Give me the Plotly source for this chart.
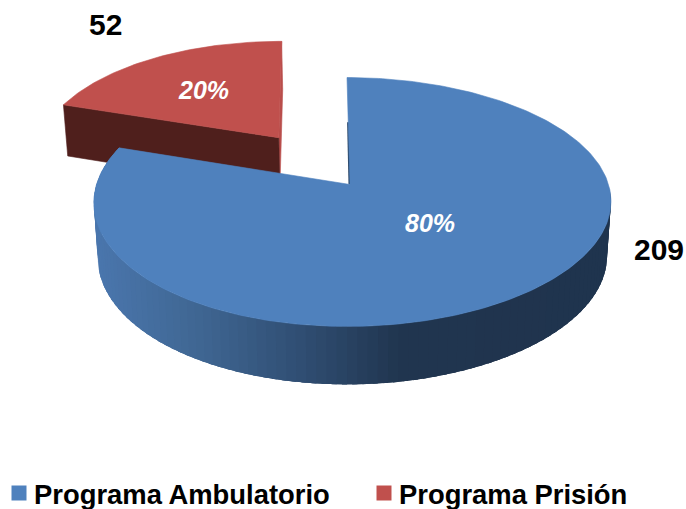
import math
import numpy as np
import plotly.graph_objects as go

# Data
categories = ["Programa Ambulatorio", "Programa Prisión"]
values = [209, 52]
pulled = [0.0, 0.5]
colors = ["#4f81bd", "#c0504d"]

# Projection of the pie's unit disc on to the page
CX, CY, BX, AY, K = 350.0, 184.5, 256.0, 122.0, 0.1406
DEPTH0, DEPTH_V, FLOOR_SCALE = 54.0, -4.0, 0.985


def project(u, v, floor=False):
    s = 1.0 / (1.0 + K * v)
    x = CX + BX * u * s + 2.5 * u * u - 3.0 * v * v
    y = CY - AY * v * s
    if floor:
        x = CX + (x - CX) * FLOOR_SCALE
        y = y + DEPTH0 + DEPTH_V * v
    return x, y


def rim(t_deg, offset=(0.0, 0.0), floor=False):
    t = math.radians(t_deg)
    return project(offset[0] + math.sin(t), offset[1] + math.cos(t), floor)


def arc(t0, t1, offset, floor=False, step=1.0):
    n = max(2, int(abs(t1 - t0) / step) + 1)
    pts = [rim(t, offset, floor) for t in np.linspace(t0, t1, n)]
    return [p[0] for p in pts], [p[1] for p in pts]


def poly(xs, ys, color, lw=0.6):
    return go.Scatter(x=xs, y=ys, mode="lines", fill="toself", fillcolor=color,
                      line=dict(color=color, width=lw), hoverinfo="skip", showlegend=False)


def mix(a, b, f):
    ca = [int(a[i:i + 2], 16) for i in (1, 3, 5)]
    cb = [int(b[i:i + 2], 16) for i in (1, 3, 5)]
    return "#%02x%02x%02x" % tuple(round(p + (q - p) * f) for p, q in zip(ca, cb))


def wall_color(x):
    stops = [(95, "#4a76ad"), (200, "#3f6692"), (300, "#304e73"), (400, "#20354f"), (690, "#1f334d")]
    for (x0, c0), (x1, c1) in zip(stops, stops[1:]):
        if x <= x1:
            return mix(c0, c1, max(0.0, (x - x0) / (x1 - x0)))
    return stops[-1][1]


total = sum(values)
spans = [360.0 * v / total for v in values]
blue_end = spans[0]
mid_red = blue_end + spans[1] / 2
off_red = (pulled[1] * math.sin(math.radians(mid_red)), pulled[1] * math.cos(math.radians(mid_red)))
off_blue = (0.0, 0.0)

fig = go.Figure()

# Pulled slice: cut faces, then its top
ax, ay = project(*off_red)
fx, fy = project(*off_red, floor=True)
lx, ly = rim(blue_end, off_red)
lfx, lfy = rim(blue_end, off_red, floor=True)
tx, ty = rim(360.0, off_red)
tfx, tfy = rim(360.0, off_red, floor=True)
fig.add_trace(poly([ax, tx, tfx, fx, ax], [ay, ty, tfy, fy, ay], "#b94e4b"))
fig.add_trace(poly([ax, lx, lfx, fx, ax], [ay, ly, lfy, fy, ay], "#4f1f1c"))
xs, ys = arc(blue_end, 360.0, off_red)
fig.add_trace(poly([ax] + xs + [ax], [ay] + ys + [ay], colors[1]))

# Main slice: side wall in overlapping shaded strips, right to left, then the top
edges = np.arange(92.0, blue_end + 0.5, 2.0)
for t0 in edges[:-1]:
    t1 = min(t0 + 5.0, blue_end)
    xa, ya = arc(t0, t1, off_blue)
    xb, yb = arc(t1, t0, off_blue, floor=True)
    mid = rim(t0 + 1.0)[0]
    fig.add_trace(poly(xa + xb + [xa[0]], ya + yb + [ya[0]], wall_color(mid), 0))
ex, ey = project(0.0, 0.55)
bx, by = project(0.0, 0.0)
fig.add_trace(go.Scatter(x=[ex - 1, bx - 0.5], y=[ey, by], mode="lines",
                         line=dict(color="#2b4768", width=2), hoverinfo="skip", showlegend=False))
xs, ys = arc(0.0, blue_end, off_blue)
fig.add_trace(poly([bx] + xs + [bx], [by] + ys + [by], colors[0]))

FONT = "Liberation Sans"
LEGEND_Y = 493.0
legend_marker_x = [19, 384]
legend_text_x = [34, 399]

# Legend entries: square swatches and their labels
fig.add_trace(go.Scatter(x=legend_marker_x, y=[LEGEND_Y, LEGEND_Y], mode="markers",
                         marker=dict(symbol="square", size=15, color=colors),
                         hoverinfo="skip", showlegend=False))

pct = [f"{v / total:.0%}" for v in values]
notes = [(430, 223, pct[0], "white", 25, True), (203, 90, pct[1], "white", 25, True),
         (659, 249, str(values[0]), "black", 30, False), (105, 24, str(values[1]), "black", 30, False)]
annotations = []
for x, y, text, col, size, ital in notes:
    label = f"<b><i>{text}</i></b>" if ital else f"<b>{text}</b>"
    annotations.append(dict(x=x, y=y, xref="x", yref="y", text=label, showarrow=False,
                            font=dict(family=FONT, size=size, color=col)))
for x, name in zip(legend_text_x, categories):
    annotations.append(dict(x=x, y=LEGEND_Y, xref="x", yref="y", xanchor="left", xshift=-2, yshift=-1,
                            text=f"<b>{name}</b>", showarrow=False,
                            font=dict(family=FONT, size=27.4, color="black")))

fig.update_layout(
    width=686, height=509, margin=dict(l=0, r=0, t=0, b=0),
    paper_bgcolor="white", plot_bgcolor="white", showlegend=False,
    xaxis=dict(range=[0, 686], visible=False, fixedrange=True),
    yaxis=dict(range=[509, 0], visible=False, fixedrange=True),
    annotations=annotations,
)
fig.write_html("out.html", config=dict(displayModeBar=False),
               default_width="686px", default_height="509px",
               post_script="document.documentElement.style.height='509px';document.body.style.margin='0';"
                           "document.body.style.height='509px';document.body.style.overflow='hidden';")
